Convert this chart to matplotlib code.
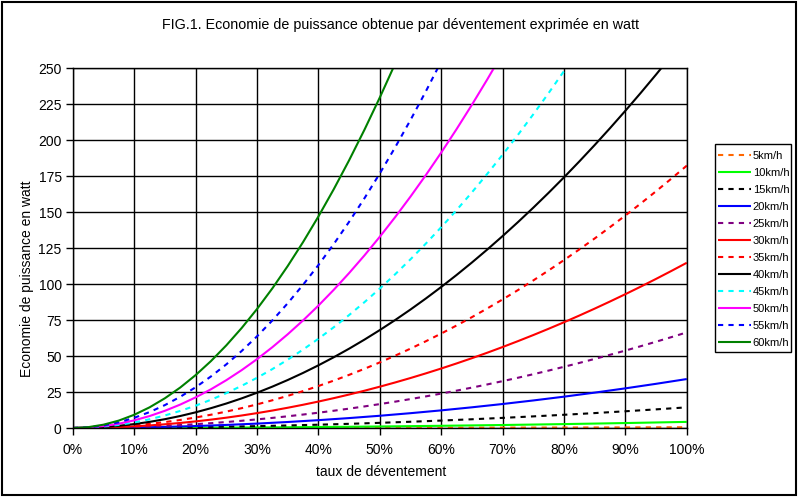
import matplotlib
matplotlib.use("Agg")
import matplotlib.pyplot as plt
from matplotlib.patches import Rectangle

plt.rcParams['font.family'] = ['Liberation Sans', 'DejaVu Sans']

# x positions (taux de déventement, %)
taux_a = [0, 5, 10, 15, 20, 25, 30, 35, 40, 45, 50, 55, 60, 65, 70, 75, 80, 85, 90, 95, 100]
taux_b = [0, 2.5, 5, 7.5, 10, 12.5, 15, 17.5, 20, 22.5, 25, 27.5, 30, 32.5, 35, 37.5,
          40, 42.5, 45, 47.5, 50, 52.5, 55, 57.5, 60, 62.5, 65, 67.5, 70, 72.5, 75,
          77.5, 80, 82.5, 85, 87.5, 90, 92.5, 95, 97.5, 100]

labels = ['5km/h', '10km/h', '15km/h', '20km/h', '25km/h', '30km/h',
          '35km/h', '40km/h', '45km/h', '50km/h', '55km/h', '60km/h']

v5 = [0, 0.001, 0.005, 0.012, 0.021, 0.033, 0.048, 0.065, 0.085, 0.107, 0.13,
      0.16, 0.19, 0.22, 0.26, 0.30, 0.34, 0.38, 0.43, 0.48, 0.53]
v10 = [0, 0.01, 0.04, 0.10, 0.17, 0.27, 0.38, 0.52, 0.68, 0.86, 1.06, 1.29,
       1.53, 1.80, 2.08, 2.39, 2.72, 3.07, 3.44, 3.84, 4.25]
v15 = [0, 0.04, 0.14, 0.32, 0.57, 0.90, 1.29, 1.76, 2.29, 2.90, 3.59, 4.34,
       5.16, 6.06, 7.03, 8.07, 9.18, 10.36, 11.62, 12.94, 14.34]
v20 = [0, 0.09, 0.34, 0.77, 1.36, 2.13, 3.06, 4.17, 5.44, 6.89, 8.50, 10.29,
       12.24, 14.37, 16.66, 19.13, 21.76, 24.57, 27.54, 30.69, 34.0]
v25 = [0, 0.04, 0.17, 0.37, 0.66, 1.04, 1.49, 2.03, 2.66, 3.36, 4.15, 5.02, 5.98,
       7.01, 8.13, 9.34, 10.62, 11.99, 13.45, 14.98, 16.60, 18.30, 20.09, 21.95,
       23.90, 25.94, 28.05, 30.25, 32.54, 34.90, 37.35, 39.88, 42.50, 45.19, 47.97,
       50.84, 53.78, 56.81, 59.93, 63.12, 66.40]
v30 = [0, 0.07, 0.29, 0.65, 1.15, 1.79, 2.58, 3.51, 4.59, 5.81, 7.17, 8.68, 10.33,
       12.12, 14.06, 16.14, 18.36, 20.73, 23.24, 25.89, 28.69, 31.63, 34.71, 37.94,
       41.31, 44.83, 48.48, 52.28, 56.23, 60.32, 64.55, 68.92, 73.44, 78.10, 82.91,
       87.86, 92.95, 98.18, 103.56, 109.09, 114.75]
v35 = [0, 0.11, 0.46, 1.02, 1.82, 2.85, 4.10, 5.58, 7.29, 9.22, 11.39, 13.78, 16.40,
       19.25, 22.32, 25.62, 29.15, 32.91, 36.90, 41.11, 45.55, 50.22, 55.12, 60.24,
       65.59, 71.18, 76.98, 83.02, 89.28, 95.77, 102.49, 109.44, 116.61, 124.02,
       131.64, 139.50, 147.59, 155.90, 164.44, 173.21, 182.21]
v40 = [0, 0.17, 0.68, 1.53, 2.72, 4.25, 6.12, 8.33, 10.88, 13.77, 17.0, 20.57, 24.48,
       28.73, 33.32, 38.25, 43.52, 49.13, 55.08, 61.37, 68.0, 74.97, 82.28, 89.93,
       97.92, 106.25, 114.92, 123.93, 133.28, 142.97, 153.0, 163.37, 174.08, 185.13,
       196.52, 208.25, 220.32, 232.73, 245.48, 258.57, 272.0]
v45 = [0, 0.24, 0.97, 2.18, 3.87, 6.05, 8.71, 11.86, 15.49, 19.61, 24.21, 29.29,
       34.86, 40.91, 47.44, 54.46, 61.97, 69.96, 78.43, 87.38, 96.82, 106.75, 117.16,
       128.05, 139.43, 151.29, 163.63, 176.46, 189.78, 203.57, 217.85, 232.62,
       247.87, 263.60]
v50 = [0, 0.33, 1.33, 2.99, 5.31, 8.30, 11.95, 16.27, 21.25, 26.89, 33.20, 40.18,
       47.81, 56.11, 65.08, 74.71, 85.00, 95.96, 107.58, 119.86, 132.81, 146.43,
       160.70, 175.64, 191.25, 207.52, 224.45, 242.05, 260.31]
v55 = [0, 0.44, 1.77, 3.98, 7.07, 11.05, 15.91, 21.66, 28.28, 35.80, 44.19, 53.47,
       63.64, 74.69, 86.62, 99.44, 113.14, 127.72, 143.19, 159.54, 176.78, 194.90,
       213.90, 233.79, 254.56]
v60 = [0, 0.57, 2.30, 5.16, 9.18, 14.34, 20.66, 28.11, 36.72, 46.47, 57.38, 69.42,
       82.62, 96.96, 112.46, 129.09, 146.88, 165.81, 185.90, 207.12, 229.50, 253.02]

series = [v5, v10, v15, v20, v25, v30, v35, v40, v45, v50, v55, v60]
xgrids = [taux_a] * 4 + [taux_b] * 8
colors = ['#FF6600', '#00FF00', '#000000', '#0000FF', '#800080', '#FF0000',
          '#FF0000', '#000000', '#00FFFF', '#FF00FF', '#0000FF', '#008000']
dashed = [True, False, True, False, True, False, True, False, True, False, True, False]

yticks = [0, 25, 50, 75, 100, 125, 150, 175, 200, 225, 250]
xticks = [0, 10, 20, 30, 40, 50, 60, 70, 80, 90, 100]
xticklabels = ['0%', '10%', '20%', '30%', '40%', '50%', '60%', '70%', '80%', '90%', '100%']

W, H = 800, 498
fig = plt.figure(figsize=(W / 100, H / 100), dpi=100)
ax = fig.add_axes([72.8 / W, 1 - 428 / H, 614 / W, 360 / H])

for xs, vals, lab, col, d in zip(xgrids, series, labels, colors, dashed):
    ls = (0, (2.5, 2.5)) if d else '-'
    ax.plot(xs[:len(vals)], vals, color=col, lw=1.5, ls=ls, label=lab,
            solid_capstyle='butt', dash_capstyle='butt')

ax.set_xlim(0, 100)
ax.set_ylim(0, 250)
ax.set_xticks(xticks)
ax.set_xticklabels(xticklabels)
ax.set_yticks(yticks)
ax.grid(True, color='black', lw=1.0)
ax.set_axisbelow(True)
for s in ax.spines.values():
    s.set_color('black')
    s.set_linewidth(1.0)
ax.tick_params(axis='both', direction='out', length=5, width=1, labelsize=10, colors='black')
ax.tick_params(axis='x', pad=6)
ax.tick_params(axis='y', pad=3)

fig.text(400 / W, 1 - 25 / H, 'FIG.1. Economie de puissance obtenue par déventement exprimée en watt',
         ha='center', va='center', fontsize=10.25)
fig.text(381 / W, 1 - 472 / H, 'taux de déventement', ha='center', va='center', fontsize=10)
fig.text(27 / W, 1 - 279 / H, 'Economie de puissance en watt', ha='center', va='center',
         rotation=90, fontsize=10)

# legend frame
ax.add_patch(Rectangle((715 / W, 1 - 352 / H), 76 / W, 208 / H,
                       transform=fig.transFigure, clip_on=False, facecolor='white',
                       edgecolor='black', lw=1.0, zorder=4))

leg = ax.legend(loc='upper left', bbox_to_anchor=(715 / W, 1 - 148 / H),
                bbox_transform=fig.transFigure, borderaxespad=0, fontsize=8,
                frameon=False, handlelength=2.9, handletextpad=0.2,
                labelspacing=0.63, borderpad=0.3)
leg.set_zorder(6)

fig.patches.append(Rectangle((2 / W, 3 / H), 794 / W, 493 / H, transform=fig.transFigure,
                             fill=False, edgecolor='black', lw=1.5))

fig.savefig('out.png', dpi=100)
